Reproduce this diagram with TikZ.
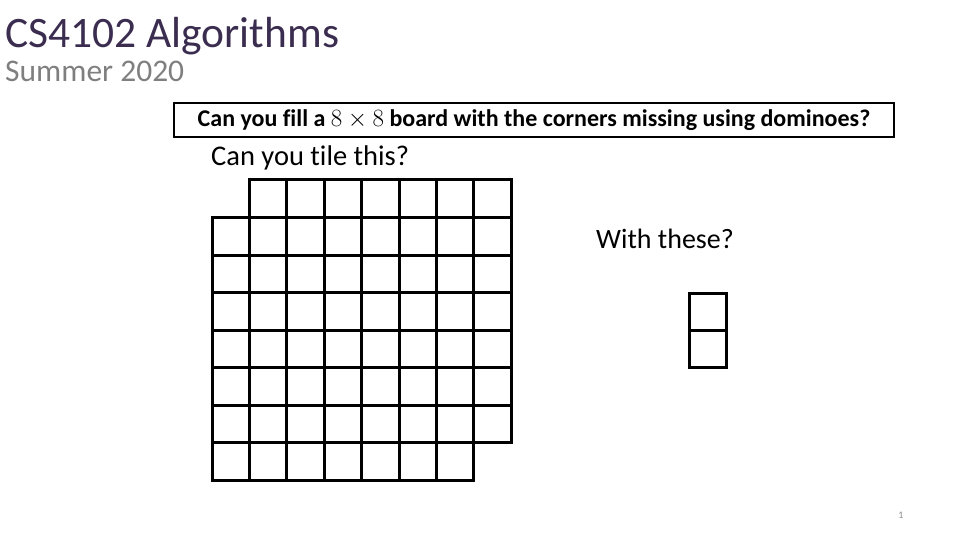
\documentclass[tikz,border=0pt]{standalone}
\usepackage{fontspec}
\setmainfont{Carlito}[Ligatures=NoCommon]
\definecolor{titlepurple}{HTML}{3B2D4F}
\definecolor{subgray}{HTML}{7F7F7F}
\definecolor{pagegray}{HTML}{8C8C8C}
\tikzset{cell/.style={line width=3pt, draw=black}}
\newcommand{\cellsize}{37.4}
\begin{document}
\begin{tikzpicture}[x=1pt,y=-1pt]
\useasboundingbox (0,0) rectangle (960,540);
% heading
\node[anchor=base west, inner sep=0, text=titlepurple, font=\fontsize{43.5}{43.5}\selectfont] (title) at (5,48) {CS4102 Algorithms};
\node[anchor=base west, inner sep=0, text=subgray, font=\fontsize{31.5}{31.5}\selectfont] (subtitle) at (5,82) {Summer 2020};
% question
\draw [line width=1.2pt] (174,103) rectangle (894,137);
\node[inner sep=0, font=\bfseries\fontsize{24}{24}\selectfont] (question) at (534,120.5) {Can you fill a $8\times8$ board with the corners missing using dominoes?};
\node[anchor=base west, inner sep=0, font=\fontsize{28.5}{28.5}\selectfont] (tile) at (211,165) {Can you tile this?};
\node[anchor=base west, inner sep=0, font=\fontsize{28}{28}\selectfont] (these) at (596,248) {With these?};
% board, corners missing
\foreach \r in {0,...,7} {
  \foreach \c in {0,...,7} {
    \ifnum\numexpr\r*8+\c\relax=0 \else
    \ifnum\numexpr\r*8+\c\relax=63 \else
      \draw [cell] (212+\c*\cellsize,180+\r*37.5) rectangle ++(\cellsize,37.5);
    \fi\fi
  }
}
% domino
\draw [cell] (689,293) rectangle (726,330);
\draw [cell] (689,330) rectangle (726,367);
\node[anchor=base, inner sep=0, text=pagegray, font=\fontsize{10}{10}\selectfont] (page) at (901,518) {1};
\end{tikzpicture}
\end{document}
